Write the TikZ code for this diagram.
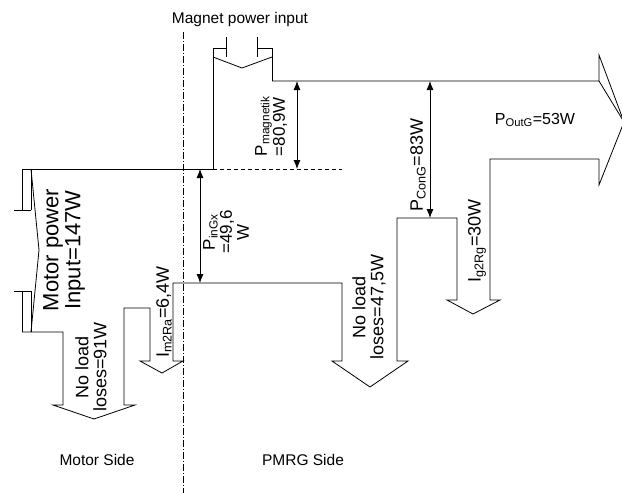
\documentclass[tikz,border=0pt]{standalone}
\usepackage{fontspec}
\setmainfont{Liberation Sans}
\usetikzlibrary{arrows.meta}

\tikzset{
  flow/.style={line width=0.8pt, line join=miter},
  dim/.style={line width=0.8pt, {Latex[length=9pt,width=7pt]}-{Latex[length=9pt,width=7pt]}},
  lbl/.style={font=\fontsize{18}{18}\selectfont, inner sep=0pt},
  vlbl/.style={lbl, rotate=90, align=center},
  sidelbl/.style={font=\fontsize{15.5}{16}\selectfont, inner sep=0pt},
  border/.style={line width=0.6pt, dash pattern=on 7pt off 2pt on 1pt off 2pt},
  guide/.style={line width=0.6pt, dash pattern=on 4pt off 3pt}
}

\begin{document}
\begin{tikzpicture}[x=1pt,y=-1pt]
    \useasboundingbox (0,0) rectangle (622,493);

    % Draw side border and guide line
    \draw[border] (183,32) -- (183,493);
    \draw[guide] (213,169) -- (342,169);

    % Draw motor input tail
    \draw[flow] (22,169) -- (22,210) (14,210) -- (31,210) (31,169) -- (31,210);
    \draw[flow] (22,291) -- (22,332) (14,291) -- (31,291) (31,291) -- (31,332);
    \draw[flow] (31,169) -- (39,250) -- (31,332);

    % Draw magnet input tail
    \draw[flow] (213,169) -- (213,48) -- (226,48) (226,37) -- (226,57);
    \draw[flow] (257,37) -- (257,57) (257,48) -- (272,48) -- (272,81);
    \draw[flow] (213,57) -- (242,68) -- (272,57);

    % Draw top edge and output arrow
    \draw[flow] (22,169) -- (213,169);
    \draw[flow] (272,81) -- (599,81) -- (599,55) -- (624,122) -- (599,185) -- (599,159);
    \draw[flow] (599,81) -- (624,122);

    % Draw bottom edge with loss arrows
    \draw[flow] (22,332) -- (63,332) -- (63,405) -- (53,405) -- (94,419) -- (135,405)
      -- (124,405) -- (124,308) -- (150,308) -- (150,361) -- (140,361) -- (162,373)
      -- (183,361) -- (173,361) -- (173,283) -- (342,283) -- (342,361) -- (332,361)
      -- (370,387) -- (408,361) -- (397,361) -- (397,218) -- (457,218) -- (457,300)
      -- (447,300) -- (473,314) -- (500,300) -- (490,300) -- (490,159) -- (599,159);

    % Draw power arrows
    \coordinate (magTop) at (297,81);
    \coordinate (magBot) at (297,169);
    \coordinate (inTop) at (200,169);
    \coordinate (inBot) at (200,283);
    \coordinate (conTop) at (430,81);
    \coordinate (conBot) at (430,218);
    \draw[dim] (magTop) -- (magBot);
    \draw[dim] (inTop) -- (inBot);
    \draw[dim] (conTop) -- (conBot);

    % Add labels
    \node[vlbl, align=left, font=\fontsize{17}{15}\selectfont] (magLbl) at (271,126) {P\textsubscript{magnetik}\\=80,9W};
    \node[vlbl, font=\fontsize{17}{17}\selectfont] (inLbl) at (226,232) {P\textsubscript{inGx}\\=49,6\\W};
    \node[vlbl] (conLbl) at (418,165) {P\textsubscript{ConG}=83W};
    \node[lbl, font=\fontsize{16}{16}\selectfont] (outLbl) at (535,120) {P\textsubscript{OutG}=53W};
    \node[vlbl] (g2Lbl) at (477,241) {I\textsubscript{g2Rg}=30W};
    \node[vlbl] (m2Lbl) at (164,312) {I\textsubscript{m2Ra}=6,4W};
    \node[vlbl] (pmrgLoss) at (369,307) {No load\\loses=47,5W};
    \node[vlbl] (motorLoss) at (91,367) {No load\\loses=91W};
    \node[vlbl, font=\fontsize{22}{22}\selectfont] (motorIn) at (64,250) {Motor power\\Input=147W};
    \node[sidelbl] (magIn) at (240,19) {Magnet power input};
    \node[sidelbl] (motorSide) at (97,460) {Motor Side};
    \node[sidelbl] (pmrgSide) at (303,460) {PMRG Side};
\end{tikzpicture}
\end{document}
